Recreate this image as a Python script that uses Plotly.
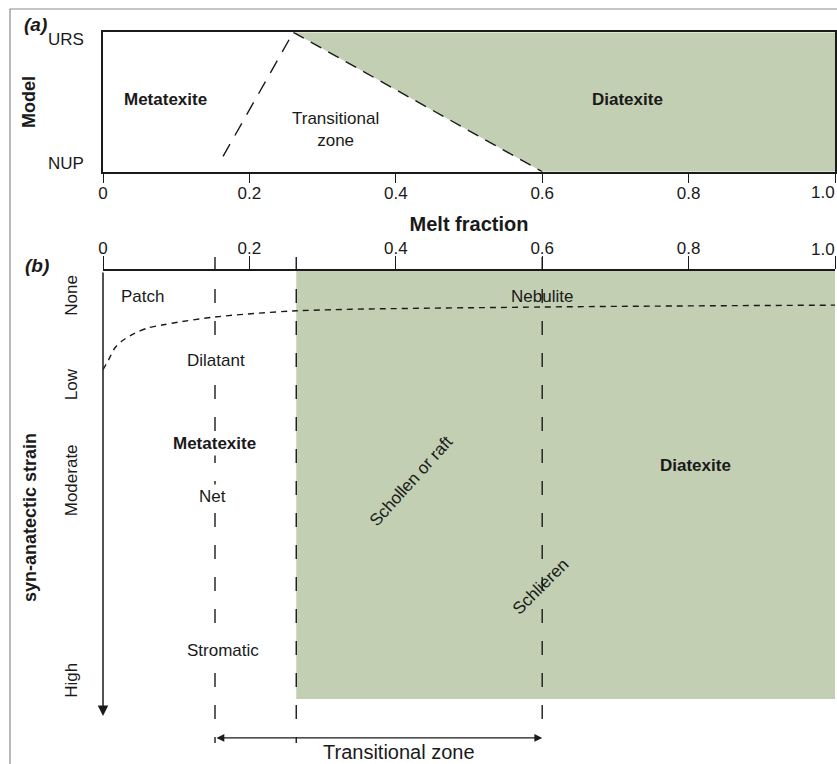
import plotly.graph_objects as go

# ---------------- values ----------------
melt_ticks = [0, 0.2, 0.4, 0.6, 0.8, 1.0]
melt_tick_text = ["0", "0.2", "0.4", "0.6", "0.8", "1.0"]

model_levels = ["NUP", "URS"]
model_level_pos = [0.06, 0.95]

strain_levels = ["None", "Low", "Moderate", "High"]
strain_level_pos = [0.057, 0.245, 0.447, 0.869]

# (a) field boundaries: melt fraction vs model level (0 = NUP, 1 = URS)
meta_edge_x = [0.164, 0.26]
meta_edge_y = [0.11, 1.0]
dia_edge_x = [0.26, 0.6]
dia_edge_y = [1.0, 0.0]

# (b) field boundaries: melt fraction vs strain (0 = none, downwards = higher)
onset_x = 0.153          # start of the transitional zone
meta_limit_x = 0.264     # metatexite / diatexite boundary
schlieren_x = 0.6        # end of the transitional zone
diatexite_strain_max = 0.903

# nebulite / patch boundary
nebulite_x = [0, 0.0068, 0.0164, 0.0273, 0.0437, 0.0615, 0.0806, 0.1025,
              0.153, 0.264, 0.6, 1.0]
nebulite_y = [0.208, 0.190, 0.162, 0.146, 0.131, 0.120, 0.114, 0.108,
              0.097, 0.084, 0.076, 0.072]

# ---------------- styling ----------------
W, H = 837, 764
GREEN = "#c2cfb2"
INK = "#1a1a1a"
FONT = "Liberation Sans, Arial, sans-serif"

def px_x(p):
    return p / W

def px_y(p):
    return 1 - p / H

x_dom = [px_x(103), px_x(835)]
a_dom = [px_y(171.7), px_y(32.3)]
b_dom = [0, px_y(271)]

fig = go.Figure()

# ---- panel (a) ----
fig.add_trace(go.Scatter(
    x=[dia_edge_x[0], 1, 1, dia_edge_x[1], dia_edge_x[0]],
    y=[dia_edge_y[0], 1, 0, dia_edge_y[1], dia_edge_y[0]],
    fill="toself", fillcolor=GREEN, line=dict(width=0), mode="lines",
    hoverinfo="skip", xaxis="x", yaxis="y"))
fig.add_trace(go.Scatter(
    x=meta_edge_x, y=meta_edge_y, mode="lines",
    line=dict(color=INK, width=1.4, dash="14px,10px"),
    xaxis="x", yaxis="y"))
fig.add_trace(go.Scatter(
    x=dia_edge_x, y=dia_edge_y, mode="lines",
    line=dict(color=INK, width=1.4, dash="12px,8px"),
    xaxis="x", yaxis="y"))

# ---- panel (b) ----
fig.add_trace(go.Scatter(
    x=[meta_limit_x, 1, 1, meta_limit_x, meta_limit_x],
    y=[0, 0, diatexite_strain_max, diatexite_strain_max, 0],
    fill="toself", fillcolor=GREEN, line=dict(width=0), mode="lines",
    hoverinfo="skip", xaxis="x2", yaxis="y2"))
fig.add_trace(go.Scatter(
    x=nebulite_x, y=nebulite_y, mode="lines",
    line=dict(color=INK, width=1.4, dash="6px,5px", shape="spline", smoothing=0.8),
    xaxis="x2", yaxis="y2"))

# vertical boundaries, rising slightly above the top axis like ticks
shapes = []
for xv, bottom in [(onset_x, 743), (meta_limit_x, 743), (schlieren_x, 733)]:
    shapes.append(dict(type="line", xref="x2", yref="paper",
                       x0=xv, x1=xv, y0=px_y(257), y1=px_y(bottom),
                       line=dict(color=INK, width=1.4, dash="14px,18px")))

# outer frame
shapes.append(dict(type="rect", xref="paper", yref="paper",
                   x0=px_x(10), x1=1.05, y0=-0.05, y1=px_y(9),
                   line=dict(color="#8c8c8c", width=1.2), fillcolor="rgba(0,0,0,0)",
                   layer="below"))

ann = []

def label(text, x, y, xref, yref, size=17, bold=False, angle=0, bg=None):
    item = dict(text=f"<b>{text}</b>" if bold else text, x=x, y=y,
                xref=xref, yref=yref, showarrow=False, textangle=angle,
                font=dict(size=size, color=INK, family=FONT),
                xanchor="center", yanchor="middle")
    if bg:
        item.update(bgcolor=bg, borderpad=2)
    ann.append(item)

# panel (a) labels
label("Metatexite", 0.085, 0.52, "x", "y", bold=True)
label("Transitional<br>zone", 0.317, 0.30, "x", "y")
label("Diatexite", 0.717, 0.52, "x", "y", bold=True)

# panel (b) labels
label("Patch", 0.054, 0.053, "x2", "y2")
label("Nebulite", 0.600, 0.053, "x2", "y2")
label("Dilatant", 0.154, 0.188, "x2", "y2", bg="white")
label("Metatexite", 0.152, 0.363, "x2", "y2", bold=True, bg="white")
label("Net", 0.150, 0.475, "x2", "y2", bg="white")
label("Stromatic", 0.164, 0.800, "x2", "y2", bg="white")
label("Schollen or raft", 0.422, 0.443, "x2", "y2", angle=-48)
label("Schlieren", 0.598, 0.665, "x2", "y2", angle=-45)
label("Diatexite", 0.810, 0.411, "x2", "y2", bold=True)
label("Transitional zone", 0.404, 1.015, "x2", "y2", size=20)

# last melt-fraction tick label, kept flush with the right edge of the axis
tick_font = dict(size=17, color=INK, family=FONT)
axis_text = melt_tick_text[:-1] + [""]
for xr, yr, yanch, shift in [("x", "y", "top", -9), ("x2", "y2", "bottom", 10)]:
    ann.append(dict(text=melt_tick_text[-1], x=melt_ticks[-1], xref=xr,
                    y=0, yref=yr, xanchor="right", yanchor=yanch, showarrow=False,
                    yshift=shift, xshift=2, font=tick_font))

# panel letters
for txt, cx, cy in [("(a)", 35, 25), ("(b)", 37, 265)]:
    ann.append(dict(text=f"<b><i>{txt}</i></b>", x=px_x(cx), y=px_y(cy),
                    xref="paper", yref="paper", xanchor="center", yanchor="middle",
                    showarrow=False, font=dict(size=19, color=INK, family=FONT)))

# strain axis arrow
ann.append(dict(x=0, y=0.939, ax=0, ay=0, xref="x2", yref="y2", axref="x2", ayref="y2",
                text="", showarrow=True, arrowhead=2, arrowsize=1.4, arrowwidth=1.5,
                arrowcolor=INK))
# transitional-zone span arrow
ann.append(dict(x=schlieren_x, y=0.985, ax=onset_x, ay=0.985, xref="x2", yref="y2",
                axref="x2", ayref="y2", text="", showarrow=True, arrowhead=2,
                startarrowhead=2, arrowside="end+start", arrowsize=1.3,
                startarrowsize=1.3, arrowwidth=1.2, arrowcolor=INK))

fig.update_layout(
    width=W, height=H, margin=dict(l=0, r=0, t=0, b=0, pad=0, autoexpand=False),
    paper_bgcolor="white", plot_bgcolor="rgba(0,0,0,0)",
    showlegend=False, shapes=shapes, annotations=ann,
    font=dict(family=FONT, color=INK),
    xaxis=dict(domain=x_dom, range=[0, 1], anchor="y", showgrid=False, zeroline=False,
               showline=True, linecolor=INK, linewidth=1.5, mirror=True,
               ticks="outside", ticklen=10, tickwidth=1.3, tickcolor=INK,
               tickvals=melt_ticks, ticktext=axis_text, tickfont=tick_font,
               ticklabelstandoff=-5,
               title=dict(text="<b>Melt fraction</b>", font=dict(size=20, color=INK, family=FONT),
                          standoff=15)),
    yaxis=dict(domain=a_dom, range=[0, 1], anchor="x", showgrid=False, zeroline=False,
               showline=True, linecolor=INK, linewidth=1.5, mirror=True,
               ticks="", tickvals=model_level_pos, ticktext=model_levels,
               tickfont=tick_font, ticklabelstandoff=14,
               title=dict(text="<b>Model</b>", font=dict(size=18, color=INK, family=FONT),
                          standoff=8)),
    xaxis2=dict(domain=x_dom, range=[0, 1], anchor="y2", side="top", showgrid=False,
                zeroline=False, showline=True, linecolor=INK, linewidth=1.5,
                ticks="outside", ticklen=13, tickwidth=1.3, tickcolor=INK,
                tickvals=melt_ticks, ticktext=axis_text, tickfont=tick_font,
                ticklabelstandoff=-5),
    yaxis2=dict(domain=b_dom, range=[1.0401, 0], anchor="x2", showgrid=False,
                zeroline=False, showline=False, ticks="",
                tickvals=strain_level_pos, ticktext=strain_levels, tickangle=-90,
                tickfont=tick_font, ticklabelstandoff=22,
                title=dict(text="<b>syn-anatectic strain</b>",
                           font=dict(size=18, color=INK, family=FONT), standoff=20)),
)

fig.write_html("out.html")
